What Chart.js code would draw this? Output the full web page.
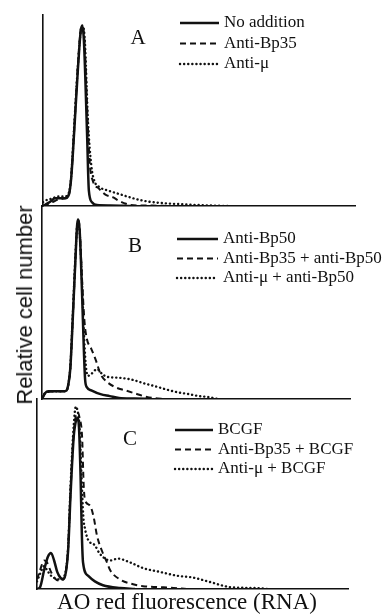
<!DOCTYPE html>
<html>
<head>
<meta charset="utf-8">
<script src="https://cdn.jsdelivr.net/npm/chart.js@4"></script>
<style>
  body { margin: 0; background: #fff; width: 389px; height: 616px; position: relative; overflow: hidden; }
  canvas { position: absolute; }
  .lbl { position: absolute; font-family: "Liberation Serif", serif; color: #111; white-space: nowrap; transform: translate(-50%, -50%); }
  .ylab { position: absolute; font-family: "Liberation Sans", sans-serif; font-size: 22px; color: #111; white-space: nowrap;
          transform: translate(-50%, -50%) rotate(-90deg); }
</style>
</head>
<body>
<canvas id="panelA"></canvas>
<canvas id="panelB"></canvas>
<canvas id="panelC"></canvas>
<div class="lbl" style="left:138px;top:37px;font-size:21px">A</div>
<div class="lbl" style="left:135px;top:245px;font-size:21px">B</div>
<div class="lbl" style="left:130px;top:438px;font-size:21px">C</div>
<div class="lbl" style="left:187px;top:602px;font-size:23px">AO red fluorescence (RNA)</div>
<div class="ylab" style="left:25px;top:305px">Relative cell number</div>
<script>
// x = channel position (0-100 across the axis), y = relative cell number (0-100)

// Panel A
const aLabels = ['No addition', 'Anti-Bp35', 'Anti-μ'];
const aSolidX = [0, 1.6, 2.9, 3.8, 7, 8.3, 9, 10, 11.2, 12.2, 12.5, 13.1, 14.1, 14.7, 15.7, 17.3, 21.5, 28];
const aSolidY = [0, 1.5, 3, 4, 4, 6, 14, 39, 72, 93, 94, 87, 39, 8, 2, 0.5, 0.3, 0];
const aDashX = [0, 3, 5, 7, 8.3, 9, 10, 11.2, 12.2, 12.6, 13.3, 14.3, 15, 16, 18, 20, 22.5, 24, 26, 28, 35, 40];
const aDashY = [0, 2, 3.5, 4, 6, 14, 40, 74, 93, 94, 86, 45, 22, 13, 9, 6, 4.5, 3, 1.5, 0.5, 0.2, 0];
const aDotX = [0, 1, 3, 5, 7, 8.3, 9, 10, 11.2, 12.2, 12.6, 13.4, 14.4, 15.5, 16.5, 18, 21, 25, 29, 33, 40, 45, 50, 55, 60];
const aDotY = [2, 3, 4, 5, 5, 7, 15, 42, 74, 93, 94.5, 87, 45, 21, 13, 10, 8, 6, 4, 2.5, 1.3, 0.9, 0.5, 0.2, 0];

// Panel B
const bLabels = ['Anti-Bp50', 'Anti-Bp35 + anti-Bp50', 'Anti-μ + anti-Bp50'];
const bSolidX = [0, 1, 2, 4, 7, 8, 8.6, 9.2, 10, 10.9, 11.4, 11.7, 12.2, 13, 13.6, 14, 14.6, 16, 19, 22, 25, 30, 35];
const bSolidY = [0, 3, 4, 4, 4, 4.5, 8, 16, 42, 74, 90, 93, 88, 55, 25, 10, 6, 4.5, 2.5, 1.5, 0.5, 0.2, 0];
const bDashX = [0, 1, 4, 7, 8, 8.6, 9.2, 10, 10.9, 11.4, 11.7, 12.2, 13, 13.8, 14.6, 16, 17.5, 19, 21, 24, 27, 30, 33, 36, 40];
const bDashY = [0, 3, 4, 4, 4.5, 8, 16, 42, 74, 90, 93, 89, 62, 40, 31, 26, 20, 13, 9, 6, 4.5, 3, 1.5, 0.5, 0];
const bDotX = [0, 1, 4, 7, 8, 8.6, 9.2, 10, 10.9, 11.4, 11.7, 12.2, 13, 13.6, 14.2, 14.9, 16, 17.9, 19.5, 21.1, 25, 29.2, 33.4, 37, 40.9, 44, 47.4, 51, 54, 57];
const bDotY = [1, 3, 4, 4, 4.5, 8, 17, 44, 76, 90, 92, 87, 60, 35, 18, 12, 13, 15.5, 13, 11.5, 11, 10, 8, 6.5, 4.7, 3.5, 2.6, 1.5, 1, 0];

// Panel C
const cLabels = ['BCGF', 'Anti-Bp35 + BCGF', 'Anti-μ + BCGF'];
const cSolidX = [0, 1, 2.3, 3.5, 4.5, 5.5, 6.5, 7.5, 8.4, 9.3, 10, 10.8, 11.8, 12.6, 13, 13.5, 14, 14.4, 14.8, 16.4, 18.6, 21.2, 26.7, 31.5];
const cSolidY = [0, 1, 10, 17, 19, 15, 9, 6, 5, 9, 20, 50, 80, 89, 90, 85, 60, 30, 14, 7, 4, 2, 0.5, 0];
const cDashX = [0, 1, 2.3, 3.2, 4.5, 5.5, 7, 8.4, 9.3, 10, 10.8, 11.8, 12.6, 13.1, 13.7, 14.5, 15, 15.4, 17, 18.2, 19.3, 20.9, 22.5, 23.5, 26.7, 30.9, 34.1, 38.6, 43, 48.2];
const cDashY = [5, 10, 15, 14, 9, 6, 4.5, 5, 9, 22, 52, 82, 92, 93, 90, 80, 55, 47, 44, 38, 28, 20, 14, 10, 5, 2.5, 1.5, 1, 0.7, 0];
const cDotX = [0, 1, 2.3, 3.2, 4.5, 6, 7.5, 8.4, 9.3, 10, 10.8, 11.8, 12.5, 13, 13.7, 14.3, 14.9, 15.4, 16.4, 18.6, 20, 21.9, 23.5, 26, 29.9, 34.1, 39.5, 45, 50.2, 55.6, 62, 67, 72.7, 74];
const cDotY = [4, 8, 12, 10, 7, 5.5, 5, 6, 10, 22, 55, 86, 96, 94, 85, 60, 38, 32, 26, 23, 19, 16, 15, 16, 14, 11, 9, 7, 6, 3.7, 1, 0.6, 0.3, 0];

const INK = '#111';
const lineStyles = [
    { borderWidth: 2.5, borderDash: [], borderCapStyle: 'butt' },
    { borderWidth: 2, borderDash: [6, 4], borderCapStyle: 'butt' },
    { borderWidth: 2.4, borderDash: [0.1, 4], borderCapStyle: 'round' }
];

function toPoints(xs, ys) {
    return xs.map((x, i) => ({ x: x, y: ys[i] }));
}

// draws the little line-sample legend inside the plot
const sampleLegend = {
    id: 'sampleLegend',
    afterDraw(chart, args, opts) {
        const ctx = chart.ctx;
        const area = chart.chartArea;
        ctx.save();
        ctx.font = '17px "Liberation Serif"';
        ctx.fillStyle = INK;
        ctx.textBaseline = 'middle';
        chart.data.datasets.forEach((ds, i) => {
            const y = area.top + opts.top + i * opts.gap;
            const x0 = area.left + opts.left;
            ctx.beginPath();
            ctx.strokeStyle = ds.borderColor;
            ctx.lineWidth = ds.borderWidth;
            ctx.lineCap = ds.borderCapStyle;
            ctx.setLineDash(ds.borderDash);
            ctx.moveTo(x0, y);
            ctx.lineTo(x0 + opts.len, y);
            ctx.stroke();
            ctx.setLineDash([]);
            ctx.fillText(ds.label, x0 + opts.len + 5, y);
        });
        ctx.restore();
    }
};

function makePanel(id, area, labels, series, legend) {
    const canvas = document.getElementById(id);
    const pad = 5;
    canvas.style.left = (area.left - pad) + 'px';
    canvas.style.top = (area.top - pad) + 'px';
    canvas.width = 389 - (area.left - pad);
    canvas.height = area.bottom - area.top + 2 * pad;

    const datasets = series.map((s, i) => Object.assign({
        label: labels[i],
        data: toPoints(s[0], s[1]),
        borderColor: INK,
        pointRadius: 0,
        fill: false,
        cubicInterpolationMode: 'monotone'
    }, lineStyles[i]));

    const axisBorder = { display: true, color: INK, width: 1.6 };
    return new Chart(canvas, {
        type: 'line',
        data: { datasets: datasets },
        plugins: [sampleLegend],
        options: {
            responsive: false,
            animation: false,
            layout: { padding: { left: pad, top: pad, bottom: pad, right: 389 - area.right } },
            plugins: {
                legend: { display: false },
                tooltip: { enabled: false },
                sampleLegend: legend
            },
            scales: {
                x: {
                    type: 'linear', min: 0, max: 100,
                    ticks: { display: false },
                    grid: { display: false, drawTicks: false },
                    border: axisBorder
                },
                y: {
                    min: 0, max: 100,
                    ticks: { display: false },
                    grid: { display: false, drawTicks: false },
                    border: axisBorder
                }
            }
        }
    });
}

makePanel('panelA', { left: 43, top: 15, right: 355, bottom: 206 }, aLabels,
    [[aSolidX, aSolidY], [aDashX, aDashY], [aDotX, aDotY]],
    { left: 137, top: 8, gap: 20.5, len: 39 });
makePanel('panelB', { left: 42, top: 206, right: 350, bottom: 399 }, bLabels,
    [[bSolidX, bSolidY], [bDashX, bDashY], [bDotX, bDotY]],
    { left: 135, top: 33, gap: 19.5, len: 41 });
makePanel('panelC', { left: 37, top: 399, right: 348, bottom: 589 }, cLabels,
    [[cSolidX, cSolidY], [cDashX, cDashY], [cDotX, cDotY]],
    { left: 138, top: 31, gap: 19.5, len: 38 });
</script>
</body>
</html>
